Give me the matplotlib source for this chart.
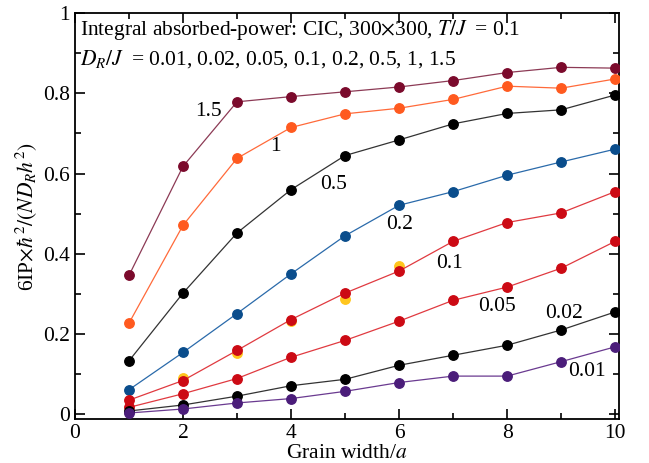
import matplotlib
matplotlib.use("Agg")
import matplotlib.pyplot as plt
from matplotlib.ticker import MultipleLocator

plt.rcParams['font.family'] = ['Liberation Serif', 'DejaVu Serif']
plt.rcParams['mathtext.fontset'] = 'stix'

widths = [1, 2, 3, 4, 5, 6, 7, 8, 9, 10]

dr_labels = ['1.5', '1', '0.5', '0.2', '0.1', '0.05', '0.02', '0.01']
v_15 = [0.346, 0.618, 0.779, 0.792, 0.804, 0.816, 0.832, 0.852, 0.865, 0.863]
v_1 = [0.227, 0.471, 0.638, 0.715, 0.749, 0.763, 0.785, 0.818, 0.813, 0.836]
v_05 = [0.133, 0.302, 0.452, 0.560, 0.645, 0.684, 0.724, 0.750, 0.759, 0.796]
v_02 = [0.061, 0.154, 0.251, 0.350, 0.445, 0.521, 0.555, 0.596, 0.629, 0.661]
v_01 = [0.035, 0.084, 0.159, 0.236, 0.302, 0.357, 0.431, 0.478, 0.502, 0.555]
v_005 = [0.017, 0.051, 0.089, 0.142, 0.184, 0.232, 0.284, 0.317, 0.364, 0.431]
v_002 = [0.008, 0.023, 0.045, 0.071, 0.087, 0.122, 0.147, 0.172, 0.210, 0.255]
v_001 = [0.003, 0.013, 0.028, 0.039, 0.057, 0.079, 0.095, 0.095, 0.131, 0.168]

# secondary (yellow) points partly hidden behind red markers
yellow_x = [2, 3, 4, 5, 6]
yellow_y = [0.090, 0.152, 0.232, 0.287, 0.369]

series = [v_15, v_1, v_05, v_02, v_01, v_005, v_002, v_001]
marker_colors = ['#7b0a2c', '#ff5a1f', '#000000', '#0a4d8c', '#cc0a14', '#cc0a14', '#000000', '#4b1d7a']
line_colors = ['#8c3a55', '#ff6a3a', '#333333', '#2a6aaa', '#e03a40', '#e03a40', '#333333', '#6a3a90']

label_pos = [(2.47, 0.755), (3.72, 0.668), (4.79, 0.572), (6.01, 0.473),
             (6.94, 0.375), (7.81, 0.269), (9.05, 0.251), (9.47, 0.107)]

FS = 15.5

fig = plt.figure(figsize=(6.49, 4.63), dpi=100)
ax = fig.add_axes([0.1155, 0.095, 0.839, 0.8765])

ax.plot(yellow_x, yellow_y, 'o', color='#ffc61e', markersize=6.8, zorder=2)
for vals, mc, lc in zip(series, marker_colors, line_colors):
    ax.plot(widths, vals, '-', color=lc, linewidth=0.9, zorder=3)
    ax.plot(widths, vals, 'o', color=mc, markersize=6.8, zorder=4)

for lab, (lx, ly) in zip(dr_labels, label_pos):
    ax.text(lx, ly, lab, fontsize=FS, ha='center', va='center')

ax.text(0.009, 0.988, r'Integral absorbed-power: CIC, 300$\times$300, $T/J\;$ = 0.1',
        transform=ax.transAxes, fontsize=FS, va='top', ha='left')
ax.text(0.009, 0.915, r'$D_R/J\;$ = 0.01, 0.02, 0.05, 0.1, 0.2, 0.5, 1, 1.5',
        transform=ax.transAxes, fontsize=FS, va='top', ha='left')

ax.set_xlim(0, 10.08)
ax.set_ylim(-0.012, 1.0)
ax.xaxis.set_minor_locator(MultipleLocator(1))
ax.yaxis.set_minor_locator(MultipleLocator(0.1))
ax.set_xticks([0, 2, 4, 6, 8, 10])
ax.set_xticklabels(['0', '2', '4', '6', '8', '10'])
ax.set_yticks([0, 0.2, 0.4, 0.6, 0.8, 1.0])
ax.set_yticklabels(['0', '0.2', '0.4', '0.6', '0.8', '1'])
ax.tick_params(which='both', direction='in', top=True, right=True, labelsize=FS, width=1.2)
ax.tick_params(which='major', length=7)
ax.tick_params(which='minor', length=4)
for s in ax.spines.values():
    s.set_linewidth(1.3)

ax.set_xlabel(r'Grain width/$a$', fontsize=FS, labelpad=1)
ax.set_ylabel(r'6IP$\times\hbar^2/(ND_R h^2)$', fontsize=FS, labelpad=3)

fig.savefig('out.png', dpi=100)
